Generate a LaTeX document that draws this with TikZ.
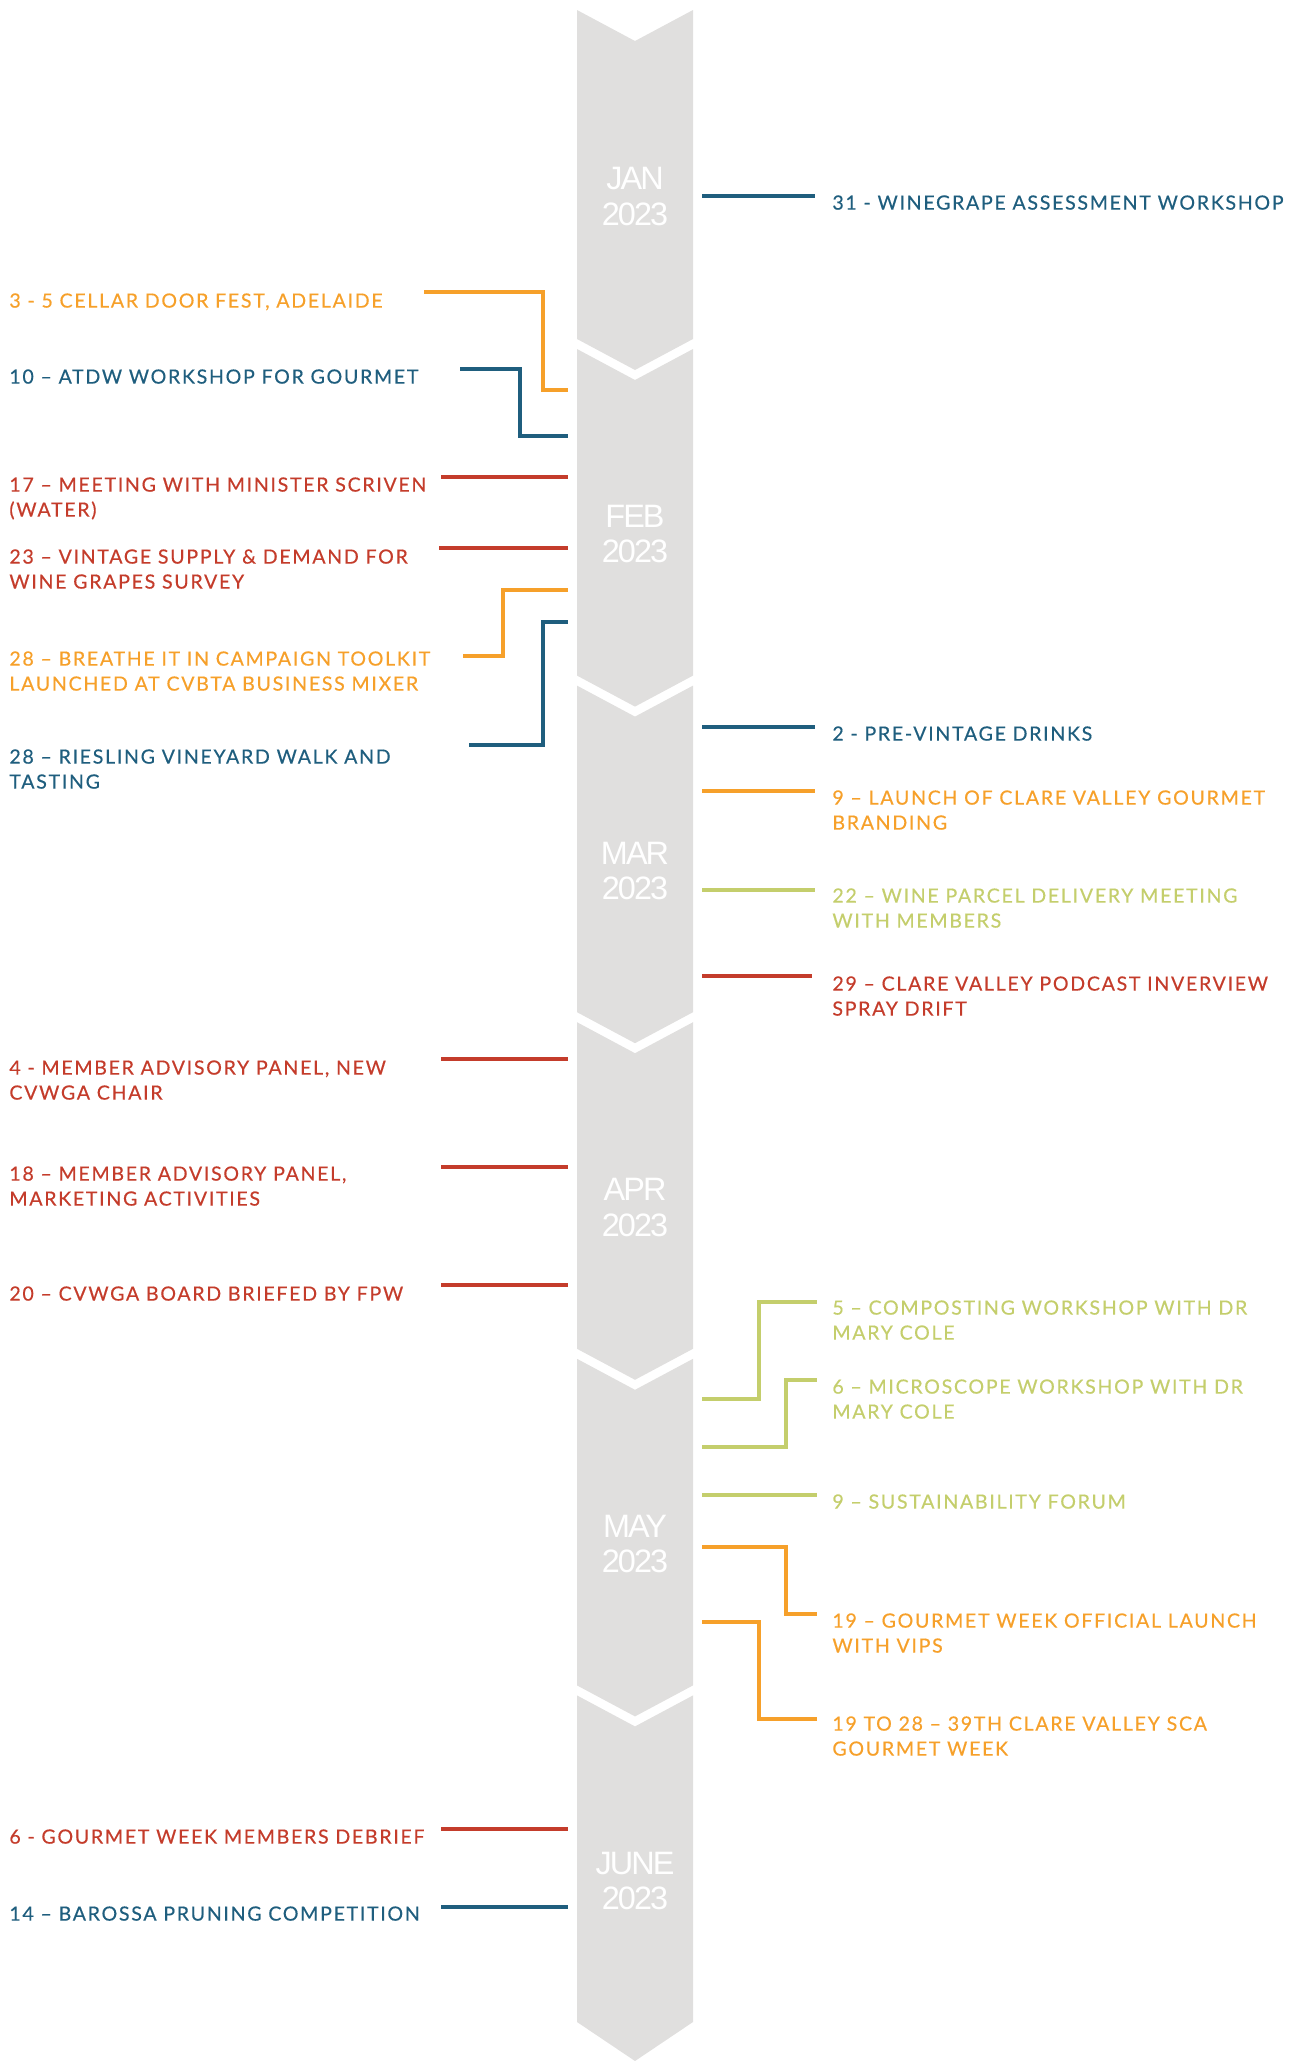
\documentclass[tikz,border=0pt]{standalone}
\usepackage{fontspec}
\newfontfamily\eventfont[LetterSpace=8.6,FakeBold=0.4]{Lato}
\newfontfamily\monthfont[LetterSpace=-6]{Liberation Sans}
\definecolor{tlblue}{HTML}{1F5E7E}
\definecolor{tlorange}{HTML}{F6A02A}
\definecolor{tlred}{HTML}{C43C2B}
\definecolor{tlgreen}{HTML}{C4CE6C}
\definecolor{tlgrey}{HTML}{E0DFDE}
\tikzset{
    band/.style={fill=tlgrey},
    month/.style={text=white, align=center, inner sep=0pt,
        font=\monthfont\fontsize{16.2}{17.7}\selectfont},
    event/.style={inner sep=0pt, align=left, anchor=north west,
        font=\eventfont\fontsize{9.8}{12.5}\selectfont},
    link/.style={line width=1.6pt},
}
\begin{document}
\begin{tikzpicture}[x=0.5pt,y=-0.5pt]
    \newcommand{\inL}{568}
    \newcommand{\inR}{702}
    \newcommand{\txL}{9}
    \newcommand{\txR}{832}
    \useasboundingbox (0,0) rectangle (1289,2061);

    % month band
    \foreach \k/\mon in {0/JAN,1/FEB,2/MAR,3/APR,4/MAY,5/JUNE}{
        \pgfmathsetmacro{\yb}{339+336.6*\k}
        \pgfmathsetmacro{\yt}{\k==0 ? 10 : \yb-326.6}
        \pgfmathsetmacro{\tip}{\k==5 ? 39 : 31}
        \fill[band] (577,\yt) -- (635,\yt+31) -- (693,\yt) -- (693,\yb) -- (635,\yb+\tip) -- (577,\yb) -- cycle;
        \node[month] (\mon) at (635,{(\yt+\yb)/2+22}) {\mon\\2023};
    }

    % january
    \coordinate (jan31a) at (\inR,196);
    \coordinate (jan31b) at (815,196);
    \draw[link,tlblue] (jan31a) -- (jan31b);
    \node[event,text=tlblue] (jan31) at (\txR,195) {31 - WINEGRAPE ASSESSMENT WORKSHOP};

    % february
    \coordinate (feb3a) at (424,292);
    \coordinate (feb3b) at (\inL,390);
    \draw[link,tlorange] (feb3a) -- ++(119,0) |- (feb3b);
    \node[event,text=tlorange] (feb3) at (\txL,293) {3 - 5 CELLAR DOOR FEST, ADELAIDE};

    \coordinate (feb10a) at (460,369);
    \coordinate (feb10b) at (\inL,436);
    \draw[link,tlblue] (feb10a) -- ++(60,0) |- (feb10b);
    \node[event,text=tlblue] (feb10) at (\txL,369) {10 – ATDW WORKSHOP FOR GOURMET};

    \coordinate (feb17a) at (441,477);
    \coordinate (feb17b) at (\inL,477);
    \draw[link,tlred] (feb17a) -- (feb17b);
    \node[event,text=tlred] (feb17) at (\txL,477) {17 – MEETING WITH MINISTER SCRIVEN\\(WATER)};

    \coordinate (feb23a) at (439,548);
    \coordinate (feb23b) at (\inL,548);
    \draw[link,tlred] (feb23a) -- (feb23b);
    \node[event,text=tlred] (feb23) at (\txL,549) {23 – VINTAGE SUPPLY \& DEMAND FOR\\WINE GRAPES SURVEY};

    \coordinate (feb28a) at (463,656);
    \coordinate (feb28b) at (\inL,590);
    \draw[link,tlorange] (feb28a) -- ++(40,0) |- (feb28b);
    \node[event,text=tlorange] (feb28) at (\txL,651) {28 – BREATHE IT IN CAMPAIGN TOOLKIT\\LAUNCHED AT CVBTA BUSINESS MIXER};

    \coordinate (feb28c) at (469,745);
    \coordinate (feb28d) at (\inL,622);
    \draw[link,tlblue] (feb28c) -- ++(74,0) |- (feb28d);
    \node[event,text=tlblue] (feb28r) at (\txL,749) {28 – RIESLING VINEYARD WALK AND\\TASTING};

    % march
    \coordinate (mar2a) at (\inR,727);
    \coordinate (mar2b) at (815,727);
    \draw[link,tlblue] (mar2a) -- (mar2b);
    \node[event,text=tlblue] (mar2) at (\txR,726) {2 - PRE-VINTAGE DRINKS};

    \coordinate (mar9a) at (\inR,791);
    \coordinate (mar9b) at (815,791);
    \draw[link,tlorange] (mar9a) -- (mar9b);
    \node[event,text=tlorange] (mar9) at (\txR,790) {9 – LAUNCH OF CLARE VALLEY GOURMET\\BRANDING};

    \coordinate (mar22a) at (\inR,890);
    \coordinate (mar22b) at (815,890);
    \draw[link,tlgreen] (mar22a) -- (mar22b);
    \node[event,text=tlgreen] (mar22) at (\txR,888) {22 – WINE PARCEL DELIVERY MEETING\\WITH MEMBERS};

    \coordinate (mar29a) at (\inR,976);
    \coordinate (mar29b) at (812,976);
    \draw[link,tlred] (mar29a) -- (mar29b);
    \node[event,text=tlred] (mar29) at (\txR,976) {29 – CLARE VALLEY PODCAST INVERVIEW\\SPRAY DRIFT};

    % april
    \coordinate (apr4a) at (441,1059);
    \coordinate (apr4b) at (\inL,1059);
    \draw[link,tlred] (apr4a) -- (apr4b);
    \node[event,text=tlred] (apr4) at (\txL,1060) {4 - MEMBER ADVISORY PANEL, NEW\\CVWGA CHAIR};

    \coordinate (apr18a) at (441,1167);
    \coordinate (apr18b) at (\inL,1167);
    \draw[link,tlred] (apr18a) -- (apr18b);
    \node[event,text=tlred] (apr18) at (\txL,1166) {18 – MEMBER ADVISORY PANEL,\\MARKETING ACTIVITIES};

    \coordinate (apr20a) at (441,1285);
    \coordinate (apr20b) at (\inL,1285);
    \draw[link,tlred] (apr20a) -- (apr20b);
    \node[event,text=tlred] (apr20) at (\txL,1286) {20 – CVWGA BOARD BRIEFED BY FPW};

    % may
    \coordinate (may5a) at (\inR,1399);
    \coordinate (may5b) at (817,1302);
    \draw[link,tlgreen] (may5a) -- ++(57,0) |- (may5b);
    \node[event,text=tlgreen] (may5) at (\txR,1300) {5 – COMPOSTING WORKSHOP WITH DR\\MARY COLE};

    \coordinate (may6a) at (\inR,1447);
    \coordinate (may6b) at (817,1380);
    \draw[link,tlgreen] (may6a) -- ++(84,0) |- (may6b);
    \node[event,text=tlgreen] (may6) at (\txR,1379) {6 – MICROSCOPE WORKSHOP WITH DR\\MARY COLE};

    \coordinate (may9a) at (\inR,1495);
    \coordinate (may9b) at (817,1495);
    \draw[link,tlgreen] (may9a) -- (may9b);
    \node[event,text=tlgreen] (may9) at (\txR,1494) {9 – SUSTAINABILITY FORUM};

    \coordinate (may19a) at (\inR,1547);
    \coordinate (may19b) at (817,1614);
    \draw[link,tlorange] (may19a) -- ++(84,0) |- (may19b);
    \node[event,text=tlorange] (may19) at (\txR,1613) {19 – GOURMET WEEK OFFICIAL LAUNCH\\WITH VIPS};

    \coordinate (may28a) at (\inR,1622);
    \coordinate (may28b) at (817,1719);
    \draw[link,tlorange] (may28a) -- ++(57,0) |- (may28b);
    \node[event,text=tlorange] (may28) at (\txR,1716) {19 TO 28 – 39TH CLARE VALLEY SCA\\GOURMET WEEK};

    % june
    \coordinate (jun6a) at (441,1829);
    \coordinate (jun6b) at (\inL,1829);
    \draw[link,tlred] (jun6a) -- (jun6b);
    \node[event,text=tlred] (jun6) at (\txL,1829) {6 - GOURMET WEEK MEMBERS DEBRIEF};

    \coordinate (jun14a) at (441,1907);
    \coordinate (jun14b) at (\inL,1907);
    \draw[link,tlblue] (jun14a) -- (jun14b);
    \node[event,text=tlblue] (jun14) at (\txL,1906) {14 – BAROSSA PRUNING COMPETITION};
\end{tikzpicture}
\end{document}
